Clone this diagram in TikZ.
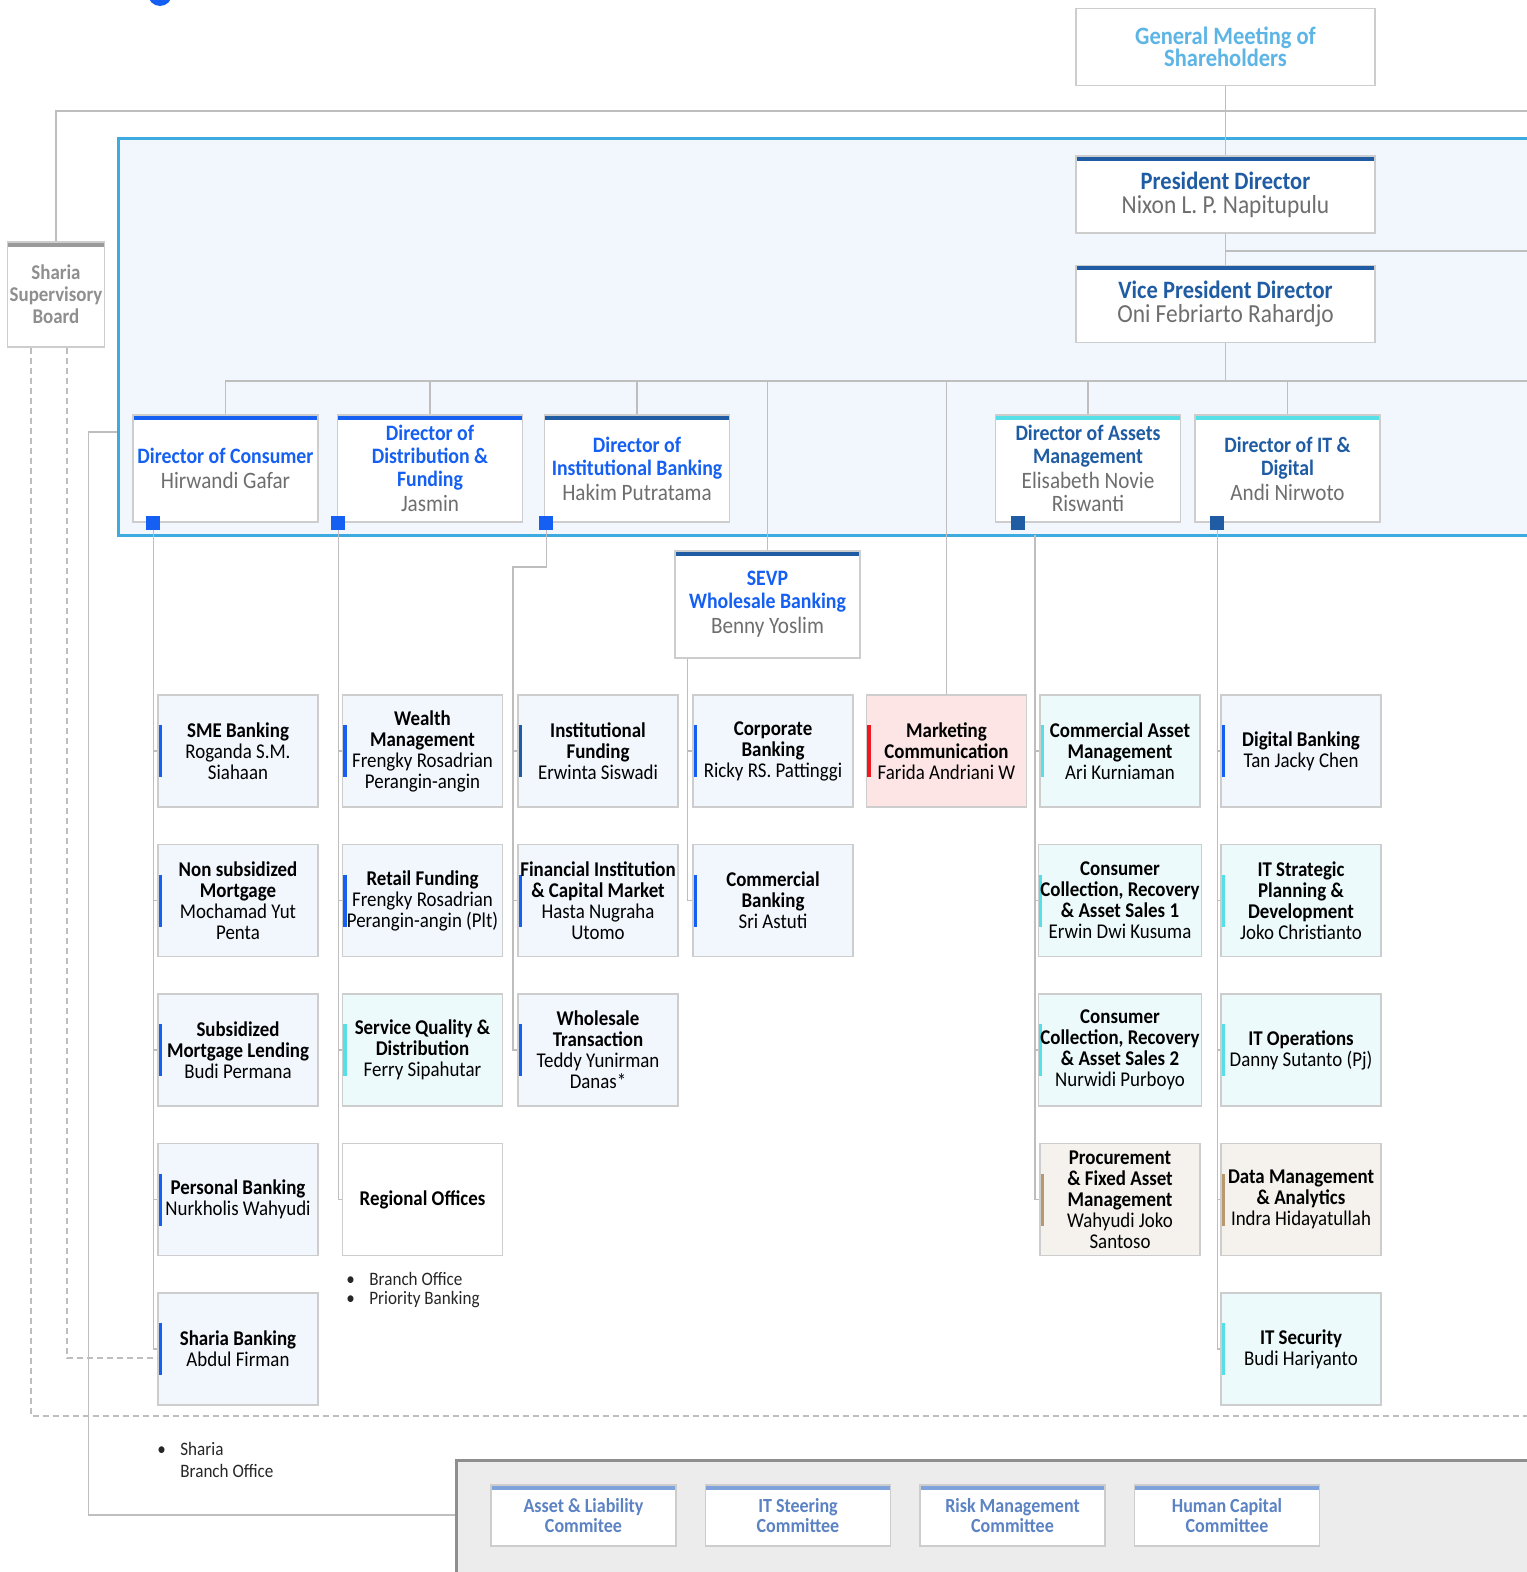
\documentclass[tikz,border=0pt]{standalone}
\usepackage{fontspec}
\setmainfont{Carlito}[FakeStretch=0.9]
\usetikzlibrary{positioning}

\definecolor{brblue}{HTML}{1560F2}
\definecolor{dkblue}{HTML}{1F5CA3}
\definecolor{cybar}{HTML}{55E0E8}
\definecolor{lbfill}{HTML}{F2F6FD}
\definecolor{cyfill}{HTML}{EDFAFB}
\definecolor{pkfill}{HTML}{FDE4E5}
\definecolor{redbar}{HTML}{F01820}
\definecolor{tnfill}{HTML}{F5F2EE}
\definecolor{tnbar}{HTML}{B8986E}
\definecolor{panelblue}{HTML}{3DAAE0}
\definecolor{linegray}{HTML}{BEBEBE}
\definecolor{boxgray}{HTML}{CDCDCD}
\definecolor{namegray}{HTML}{6E6E6E}
\definecolor{gmsblue}{HTML}{5DB5E6}
\definecolor{ssbgray}{HTML}{8F8F8F}
\definecolor{ssbbar}{HTML}{9A9A9A}
\definecolor{cmtblue}{HTML}{5B82C3}
\definecolor{cmtbar}{HTML}{7EA2DA}
\definecolor{cmtfill}{HTML}{ECECEC}
\definecolor{cmtedge}{HTML}{8E8E8E}

\begin{document}
\begin{tikzpicture}[
        x=0.5pt, y=-0.5pt,
        node distance=18pt,
        % Stili delle linee
        conn/.style={draw=linegray, line width=0.75pt},
        dashconn/.style={draw=linegray, line width=0.75pt, dash pattern=on 3pt off 2pt},
        % Barre colorate
        topbar/.style={path picture={\fill[#1] (path picture bounding box.north west) rectangle ([yshift=-2.5pt]path picture bounding box.north east);}},
        sidebar/.style={path picture={\fill[#1] ([yshift=13pt]path picture bounding box.west) rectangle ([xshift=2pt,yshift=-13pt]path picture bounding box.west);}},
        % Stili dei nodi
        topbox/.style={rectangle, draw=boxgray, line width=0.75pt, fill=white, minimum width=149.5pt, minimum height=38.5pt, align=center, font=\fontsize{12.5}{12}\selectfont},
        dirbox/.style={rectangle, draw=boxgray, line width=0.75pt, fill=white, minimum width=92.5pt, minimum height=53.5pt, inner sep=1pt, align=center, font=\fontsize{11}{11.5}\selectfont},
        dirname/.style={},
        leafbox/.style={rectangle, draw=boxgray, line width=0.75pt, minimum width=80pt, minimum height=56pt, inner sep=1pt, align=center, font=\fontsize{10.5}{10.5}\selectfont},
        leafblue/.style={leafbox, fill=lbfill, sidebar=brblue},
        leafdark/.style={leafbox, fill=lbfill, sidebar=dkblue},
        leafcyan/.style={leafbox, fill=cyfill, sidebar=cybar},
        leafpink/.style={leafbox, fill=pkfill, sidebar=redbar},
        leaftan/.style={leafbox, fill=tnfill, sidebar=tnbar},
        marker/.style={rectangle, minimum size=7pt, inner sep=0pt},
        cmtbox/.style={rectangle, draw=boxgray, line width=0.75pt, fill=white, minimum width=92.5pt, minimum height=30.5pt, align=center, text=cmtblue, font=\bfseries\fontsize{10}{10}\selectfont, topbar=cmtbar},
        bullets/.style={inner sep=0pt, align=left, text=black!85, font=\fontsize{9.5}{9.5}\selectfont}
    ]
    \useasboundingbox (0,0) rectangle (1526,1572);

    % Pannelli
    \node (board) [rectangle, draw=panelblue, line width=1.5pt, fill=lbfill, minimum width=721pt, minimum height=198pt, inner sep=0pt] at (839,337) {};
    \node (cmt_panel) [rectangle, draw=cmtedge, line width=1.5pt, fill=cmtfill, minimum width=552pt, minimum height=70pt, inner sep=0pt] at (1008,1530) {};
    \node (dot) [circle, fill=brblue, minimum size=12pt, inner sep=0pt] at (160,-6) {};

    % Vertice
    \node (gms) [topbox, text=gmsblue, font=\bfseries\fontsize{12.5}{11}\selectfont] at (1225.5,47) {General Meeting of\\Shareholders};
    \node (pres_dir) [topbox, topbar=dkblue] at (1225.5,194.5) {\textcolor{dkblue}{\textbf{President Director}}\\\textcolor{namegray}{\fontsize{13}{12}\selectfont Nixon L. P. Napitupulu}};
    \node (vp_dir) [topbox, topbar=dkblue] at (1225.5,304) {\textcolor{dkblue}{\textbf{Vice President Director}}\\\textcolor{namegray}{\fontsize{13}{12}\selectfont Oni Febriarto Rahardjo}};
    \node (ssb) [rectangle, draw=boxgray, line width=0.75pt, fill=white, minimum width=48pt, minimum height=52.5pt, inner sep=1pt, align=center, text=ssbgray, font=\bfseries\fontsize{10.5}{11}\selectfont, topbar=ssbbar] at (56,294.5) {Sharia\\Supervisory\\Board};

    % Direttori
    \node (dir_cons) [dirbox, topbar=brblue, text=brblue] at (225.5,468.5) {\textbf{Director of Consumer}\\[1pt]\textcolor{namegray}{\fontsize{11.75}{11.5}\selectfont Hirwandi Gafar}};
    \node (dir_dist) [dirbox, topbar=brblue, text=brblue] at (430,468.5) {\textbf{Director of}\\\textbf{Distribution \&}\\\textbf{Funding}\\[1pt]\textcolor{namegray}{\fontsize{11.75}{11.5}\selectfont Jasmin}};
    \node (dir_inst) [dirbox, topbar=dkblue, text=brblue] at (637,468.5) {\textbf{Director of}\\\textbf{Institutional Banking}\\[1pt]\textcolor{namegray}{\fontsize{11.75}{11.5}\selectfont Hakim Putratama}};
    \node (dir_asset) [dirbox, topbar=cybar, text=dkblue] at (1088,468.5) {\textbf{Director of Assets}\\\textbf{Management}\\[1pt]\textcolor{namegray}{\fontsize{11.75}{11.5}\selectfont Elisabeth Novie}\\\textcolor{namegray}{\fontsize{11.75}{11.5}\selectfont Riswanti}};
    \node (dir_it) [dirbox, topbar=cybar, text=dkblue] at (1287.5,468.5) {\textbf{Director of IT \&}\\\textbf{Digital}\\[1pt]\textcolor{namegray}{\fontsize{11.75}{11.5}\selectfont Andi Nirwoto}};
    \node (sevp) [dirbox, topbar=dkblue, text=brblue] at (767.5,604.5) {\textbf{SEVP}\\\textbf{Wholesale Banking}\\[1pt]\textcolor{namegray}{\fontsize{11.75}{11.5}\selectfont Benny Yoslim}};

    \node (sq_cons) [marker, fill=brblue] at ([xshift=10.5pt]dir_cons.south west) {};
    \node (sq_dist) [marker, fill=brblue] at ([xshift=0.75pt]dir_dist.south west) {};
    \node (sq_inst) [marker, fill=brblue] at ([xshift=1.25pt]dir_inst.south west) {};
    \node (sq_asset) [marker, fill=dkblue] at ([xshift=11.75pt]dir_asset.south west) {};
    \node (sq_it) [marker, fill=dkblue] at ([xshift=11.5pt]dir_it.south west) {};

    % Consumer
    \node (sme_bank) [leafblue] at (238,751) {\textbf{SME Banking}\\Roganda S.M.\\Siahaan};
    \node (nonsub_mort) [leafblue, below=of sme_bank] {\textbf{Non subsidized}\\\textbf{Mortgage}\\Mochamad Yut\\Penta};
    \node (sub_mort) [leafblue, below=of nonsub_mort] {\textbf{Subsidized}\\\textbf{Mortgage Lending}\\Budi Permana};
    \node (pers_bank) [leafblue, below=of sub_mort] {\textbf{Personal Banking}\\Nurkholis Wahyudi};
    \node (sharia_bank) [leafblue, below=of pers_bank] {\textbf{Sharia Banking}\\Abdul Firman};

    % Distribution & Funding
    \node (wealth) [leafblue] at (422.5,751) {\textbf{Wealth}\\\textbf{Management}\\Frengky Rosadrian\\Perangin-angin};
    \node (retail) [leafblue, below=of wealth] {\textbf{Retail Funding}\\Frengky Rosadrian\\Perangin-angin (Plt)};
    \node (serv_qual) [leafcyan, below=of retail] {\textbf{Service Quality \&}\\\textbf{Distribution}\\Ferry Sipahutar};
    \node (regional) [leafbox, fill=white, below=of serv_qual] {\textbf{Regional Offices}};
    \node (reg_list) [bullets, anchor=north west] at (346,1272) {\makebox[11.5pt][l]{\textbullet}Branch Office\\\makebox[11.5pt][l]{\textbullet}Priority Banking};

    % Institutional Banking
    \node (inst_fund) [leafdark] at (598,751) {\textbf{Institutional}\\\textbf{Funding}\\Erwinta Siswadi};
    \node (fin_inst) [leafblue, below=of inst_fund] {\textbf{Financial Institution}\\\textbf{\& Capital Market}\\Hasta Nugraha\\Utomo};
    \node (whs_trans) [leafblue, below=of fin_inst] {\textbf{Wholesale}\\\textbf{Transaction}\\Teddy Yunirman\\Danas*};

    % Wholesale
    \node (corp_bank) [leafblue] at (773,751) {\textbf{Corporate}\\\textbf{Banking}\\Ricky RS. Pattinggi};
    \node (comm_bank) [leafblue, below=of corp_bank] {\textbf{Commercial}\\\textbf{Banking}\\Sri Astuti};

    \node (mkt_comm) [leafpink] at (946.5,751) {\textbf{Marketing}\\\textbf{Communication}\\Farida Andriani W};

    % Assets Management
    \node (comm_asset) [leafcyan] at (1120,751) {\textbf{Commercial Asset}\\\textbf{Management}\\Ari Kurniaman};
    \node (ccr_one) [leafcyan, below=of comm_asset] {\textbf{Consumer}\\\textbf{Collection, Recovery}\\\textbf{\& Asset Sales 1}\\Erwin Dwi Kusuma};
    \node (ccr_two) [leafcyan, below=of ccr_one] {\textbf{Consumer}\\\textbf{Collection, Recovery}\\\textbf{\& Asset Sales 2}\\Nurwidi Purboyo};
    \node (procure) [leaftan, below=of ccr_two] {\textbf{Procurement}\\\textbf{\& Fixed Asset}\\\textbf{Management}\\Wahyudi Joko\\Santoso};

    % IT & Digital
    \node (dig_bank) [leafblue] at (1301,751) {\textbf{Digital Banking}\\Tan Jacky Chen};
    \node (it_strat) [leafcyan, below=of dig_bank] {\textbf{IT Strategic}\\\textbf{Planning \&}\\\textbf{Development}\\Joko Christianto};
    \node (it_ops) [leafcyan, below=of it_strat] {\textbf{IT Operations}\\Danny Sutanto (Pj)};
    \node (data_mgmt) [leaftan, below=of it_ops] {\textbf{Data Management}\\\textbf{\& Analytics}\\Indra Hidayatullah};
    \node (it_sec) [leafcyan, below=of data_mgmt] {\textbf{IT Security}\\Budi Hariyanto};

    \node (shb_list) [bullets, anchor=north west, font=\fontsize{9.5}{11}\selectfont] at (157,1442) {\makebox[11.5pt][l]{\textbullet}Sharia\\\makebox[11.5pt][l]{}Branch Office};

    % Comitati
    \node (cmt_alco) [cmtbox] at (583.5,1515.5) {Asset \& Liability\\Commitee};
    \node (cmt_itsc) [cmtbox, right=14pt of cmt_alco] {IT Steering\\Committee};
    \node (cmt_risk) [cmtbox, right=14pt of cmt_itsc] {Risk Management\\Committee};
    \node (cmt_hc) [cmtbox, right=14pt of cmt_risk] {Human Capital\\Committee};

    % Punti liberi
    \coordinate (edge_gms) at (1545,111);
    \coordinate (edge_pres) at (1545,251);
    \coordinate (bus) at (1225.5,381);
    \coordinate (edge_bus) at (1545,381);
    \coordinate (edge_dash) at (1545,1416);
    \coordinate (asset_root) at (1035,535);
    \coordinate (inst_kink) at (513,567);
    \coordinate (sevp_root) at ([xshift=6.5pt]sevp.south west);

    % Collegamenti
    \draw [conn] (gms) -- (pres_dir);
    \draw [conn] (pres_dir) -- (vp_dir);
    \draw [conn] (pres_dir.south |- edge_pres) -- (edge_pres);
    \draw [conn] (vp_dir) -- (bus);
    \draw [conn] (bus) -- (edge_bus);
    \draw [conn] (bus) -| (dir_cons);
    \draw [conn] (bus) -| (dir_dist);
    \draw [conn] (bus) -| (dir_inst);
    \draw [conn] (bus) -| (sevp);
    \draw [conn] (bus) -| (mkt_comm);
    \draw [conn] (bus) -| (dir_asset);
    \draw [conn] (bus) -| (dir_it);

    \draw [conn] (ssb) |- (edge_gms);
    \draw [conn] ([yshift=-47.5pt]board.west) -- ++(-14pt,0) |- ([yshift=7.5pt]cmt_panel.west);
    \draw [dashconn] ([xshift=-12.5pt]ssb.south) |- (edge_dash);
    \draw [dashconn] ([xshift=5.5pt]ssb.south) |- ([yshift=-4.5pt]sharia_bank.west);

    % Consumer
    \draw [conn] (sq_cons) |- (sharia_bank);
    \draw [conn] (sq_cons |- sme_bank.west) -- (sme_bank.west);
    \draw [conn] (sq_cons |- nonsub_mort.west) -- (nonsub_mort.west);
    \draw [conn] (sq_cons |- sub_mort.west) -- (sub_mort.west);
    \draw [conn] (sq_cons |- pers_bank.west) -- (pers_bank.west);

    % Distribution
    \draw [conn] (sq_dist) |- (regional);
    \draw [conn] (sq_dist |- wealth.west) -- (wealth.west);
    \draw [conn] (sq_dist |- retail.west) -- (retail.west);
    \draw [conn] (sq_dist |- serv_qual.west) -- (serv_qual.west);

    % Institutional
    \draw [conn] (sq_inst) |- (inst_kink) |- (whs_trans);
    \draw [conn] (inst_kink |- inst_fund.west) -- (inst_fund.west);
    \draw [conn] (inst_kink |- fin_inst.west) -- (fin_inst.west);

    % Wholesale
    \draw [conn] (sevp_root) |- (comm_bank);
    \draw [conn] (sevp_root |- corp_bank.west) -- (corp_bank.west);

    % Assets
    \draw [conn] (asset_root) |- (procure);
    \draw [conn] (asset_root |- comm_asset.west) -- (comm_asset.west);
    \draw [conn] (asset_root |- ccr_one.west) -- (ccr_one.west);
    \draw [conn] (asset_root |- ccr_two.west) -- (ccr_two.west);

    % IT
    \draw [conn] (sq_it) |- (it_sec);
    \draw [conn] (sq_it |- dig_bank.west) -- (dig_bank.west);
    \draw [conn] (sq_it |- it_strat.west) -- (it_strat.west);
    \draw [conn] (sq_it |- it_ops.west) -- (it_ops.west);
    \draw [conn] (sq_it |- data_mgmt.west) -- (data_mgmt.west);

\end{tikzpicture}
\end{document}
